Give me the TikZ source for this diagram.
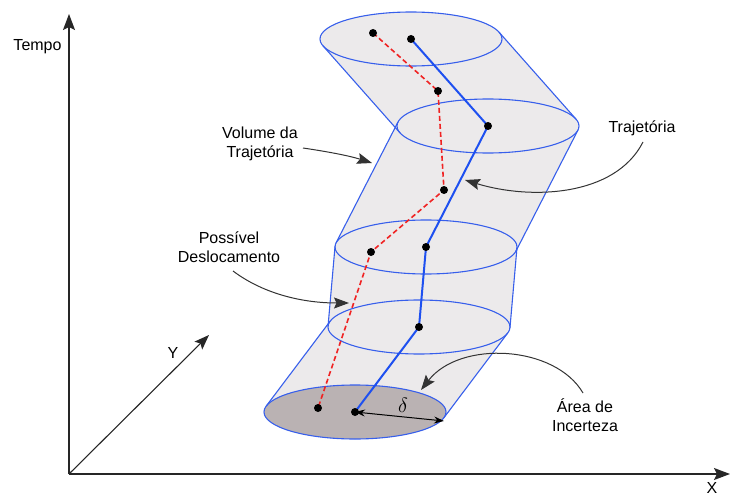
\documentclass[tikz,border=0pt]{standalone}
\usepackage{fontspec}
\setmainfont{Liberation Sans}
\usetikzlibrary{arrows.meta}
\definecolor{volfill}{RGB}{236,234,235}
\definecolor{basefill}{RGB}{186,178,179}
\definecolor{edgeblue}{RGB}{55,95,235}
\definecolor{trajblue}{RGB}{30,80,240}
\definecolor{trajred}{RGB}{240,35,35}
\begin{document}
\begin{tikzpicture}[x=1pt,y=-1pt,
  lbl/.style={font=\fontsize{16}{19.5}\selectfont, align=center, inner sep=0pt},
  edgeline/.style={draw=edgeblue, line width=1.1pt},
  bluepath/.style={draw=trajblue, line width=2pt},
  redpath/.style={draw=trajred, line width=1.6pt, dash pattern=on 5pt off 3pt},
  dot/.style={fill=black},
  axis/.style={draw=black!85, line width=1.4pt, -{Stealth[length=16pt,width=12pt,inset=3pt]}},
  yaxis/.style={draw=black!85, line width=1.1pt, -{Stealth[length=15pt,width=11pt,inset=3pt]}},
  callout/.style={draw=black!80, line width=1pt, -{Stealth[length=15pt,width=11pt,inset=2.5pt]}},
  rad/.style={draw=black, line width=1pt, {Stealth[length=10pt,width=7pt]}-{Stealth[length=10pt,width=7pt]}}
]
\useasboundingbox (0,0) rectangle (730,497);

% ellipse centres (= trajectory points)
\coordinate (c0) at (355,412);
\coordinate (c1) at (419,327);
\coordinate (c2) at (426,247);
\coordinate (c3) at (488,126);
\coordinate (c4) at (411,39);
% tangent points
\coordinate (a0) at (443.8,417.9); \coordinate (b0) at (266.2,406.1);
\coordinate (a1) at (507.8,332.9); \coordinate (b1) at (330.2,321.1);
\coordinate (p1) at (509.97,327.7); \coordinate (q1) at (328.03,326.3);
\coordinate (p2) at (516.97,247.7); \coordinate (q2) at (335.03,246.3);
\coordinate (u2) at (515.97,251.06); \coordinate (v2) at (336.03,242.94);
\coordinate (u3) at (577.97,130.06); \coordinate (v3) at (398.03,121.94);
\coordinate (m3) at (576.0,119.14); \coordinate (n3) at (400.0,132.86);
\coordinate (m4) at (499.0,32.14); \coordinate (n4) at (323.0,45.86);

% volume fill
\fill[volfill] (a0) -- (a1) -- (b1) -- (b0) -- cycle;
\fill[volfill] (p1) -- (p2) -- (q2) -- (q1) -- cycle;
\fill[volfill] (u2) -- (u3) -- (v3) -- (v2) -- cycle;
\fill[volfill] (m3) -- (m4) -- (n4) -- (n3) -- cycle;
\foreach \c in {c1,c2,c3,c4}
  \fill[volfill] (\c) ellipse [x radius=91pt, y radius=27pt];
\fill[basefill] (c0) ellipse [x radius=91pt, y radius=27pt];

% outlines
\foreach \c in {c0,c1,c2,c3,c4}
  \draw[edgeline] (\c) ellipse [x radius=91pt, y radius=27pt];
\draw[edgeline] (a0) -- (a1) (b0) -- (b1);
\draw[edgeline] (p1) -- (p2) (q1) -- (q2);
\draw[edgeline] (u2) -- (u3) (v2) -- (v3);
\draw[edgeline] (m3) -- (m4) (n3) -- (n4);

% possible displacement (red)
\coordinate (r4) at (373,33);
\coordinate (r3) at (438,91);
\coordinate (r2) at (444,190);
\coordinate (r1) at (371,252);
\coordinate (r0) at (318,408);
\draw[redpath] (r4) -- (r3) -- (r2) -- (r1) -- (r0);
% trajectory (blue)
\draw[bluepath] (c4) -- (c3) -- (c2) -- (c1) -- (c0);
\foreach \p in {r0,r1,r2,r3,r4,c0,c1,c2,c3,c4}
  \fill[dot] (\p) circle [radius=4pt];

% uncertainty radius
\coordinate (dend) at (444,421);
\draw[rad] (c0) -- (dend);
\node[inner sep=0pt] (delta) at (403,405) {\fontsize{22}{24}\selectfont$\delta$};

% axes
\coordinate (o) at (69,474);
\coordinate (tend) at (69,14);
\coordinate (xend) at (730,474);
\coordinate (yend) at (209,335);
\draw[axis] (o) -- (tend);
\draw[axis] (o) -- (xend);
\draw[yaxis] (o) -- (yend);
\node[lbl] (tempo) at (37.5,46.5) {Tempo};
\node[lbl] (xlab) at (712,488) {X};
\node[lbl] (ylab) at (173,353) {Y};

% callouts
\node[lbl] (vol) at (260,144) {Volume da\\Trajetória};
\node[lbl] (desl) at (229,247) {Possível\\Deslocamento};
\node[lbl] (traj) at (642,128) {Trajetória};
\node[lbl] (area) at (585,415) {Área de\\Incerteza};

\coordinate (vols) at (303,148); \coordinate (vole) at (372,163);
\coordinate (desls) at (233,271); \coordinate (desle) at (349,303);
\coordinate (trajs) at (643,142); \coordinate (traje) at (465,180);
\coordinate (areas) at (583,393); \coordinate (areae) at (421,390);

\draw[callout] (vols) .. controls (330,152) and (350,156) .. (vole);
\draw[callout] (desls) .. controls (265,295) and (305,303) .. (desle);
\draw[callout] (trajs) .. controls (615,197) and (530,200) .. (traje);
\draw[callout] (areas) .. controls (555,345) and (460,340) .. (areae);
\end{tikzpicture}
\end{document}
